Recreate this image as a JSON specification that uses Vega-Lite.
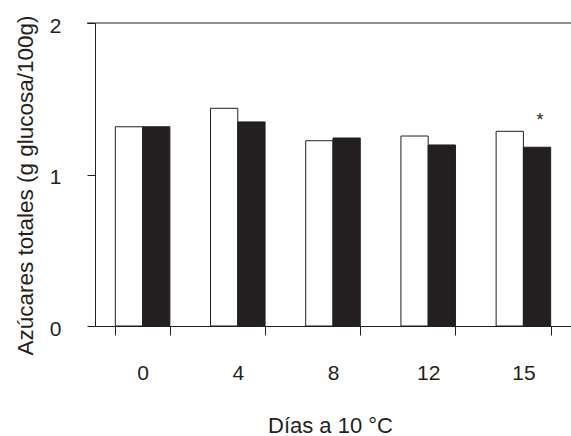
{
  "$schema": "https://vega.github.io/schema/vega-lite/v6.json",
  "autosize": {"type": "none"},
  "padding": {"left": 95, "top": 23, "right": 0, "bottom": 110},
  "width": 476,
  "height": 303,
  "background": "white",
  "config": {
    "view": {"stroke": null},
    "font": "Liberation Sans",
    "axis": {"labelFont": "Liberation Sans", "titleFont": "Liberation Sans", "labelColor": "#231f20", "titleColor": "#231f20", "domainColor": "#231f20", "tickColor": "#231f20", "grid": false, "labelFontSize": 21, "titleFontSize": 22, "titleFontWeight": "normal"}
  },
  "data": {"values": [
    {"dia": "0", "serie": "A", "azucar": 1.315},
    {"dia": "0", "serie": "B", "azucar": 1.315},
    {"dia": "4", "serie": "A", "azucar": 1.437},
    {"dia": "4", "serie": "B", "azucar": 1.347},
    {"dia": "8", "serie": "A", "azucar": 1.223},
    {"dia": "8", "serie": "B", "azucar": 1.241},
    {"dia": "12", "serie": "A", "azucar": 1.254},
    {"dia": "12", "serie": "B", "azucar": 1.195},
    {"dia": "15", "serie": "A", "azucar": 1.285},
    {"dia": "15", "serie": "B", "azucar": 1.18}
  ]},
  "encoding": {
    "x": {"field": "dia", "type": "nominal", "sort": ["0", "4", "8", "12", "15"],
      "scale": {"paddingInner": 0.427, "paddingOuter": 0.2135},
      "axis": {"title": "Días a 10 °C", "labelAngle": 0, "tickBand": "extent", "tickSize": 9, "labelBaseline": "alphabetic", "labelPadding": 44, "titleBaseline": "alphabetic", "titleY": 106, "titleX": 235, "titleAnchor": null}},
    "y": {"field": "azucar", "type": "quantitative", "scale": {"domain": [0, 2]},
      "axis": {"title": "Azúcares totales (g glucosa/100g)", "values": [0, 1, 2], "labelExpr": "'' + datum.value", "labelOverlap": false, "tickSize": 8, "labelPadding": 26, "labelOffset": 3, "titleFontSize": 22.5, "titleX": -63, "titleY": 162, "titleBaseline": "alphabetic", "titleAlign": "center", "titleAngle": -90}}
  },
  "layer": [
    {
      "mark": {"type": "bar", "stroke": "#231f20", "strokeWidth": 1},
      "encoding": {
        "xOffset": {"field": "serie", "type": "nominal", "scale": {"paddingInner": 0, "paddingOuter": 0}},
        "fill": {"field": "serie", "type": "nominal", "scale": {"domain": ["A", "B"], "range": ["#ffffff", "#231f20"]}, "legend": null}
      }
    },
    {
      "data": {"values": [{"azucar": 2}]},
      "mark": {"type": "rule", "color": "#231f20", "strokeWidth": 1},
      "encoding": {"x": {"value": -8}, "x2": {"value": 476}}
    },
    {
      "data": {"values": [{"dia": "15", "serie": "B", "azucar": 1.35, "label": "*"}]},
      "mark": {"type": "text", "fontSize": 18, "baseline": "middle", "dx": 3, "color": "#231f20", "font": "Liberation Sans"},
      "encoding": {
        "xOffset": {"field": "serie", "type": "nominal", "scale": {"domain": ["A", "B"]}},
        "text": {"field": "label"}
      }
    }
  ]
}
